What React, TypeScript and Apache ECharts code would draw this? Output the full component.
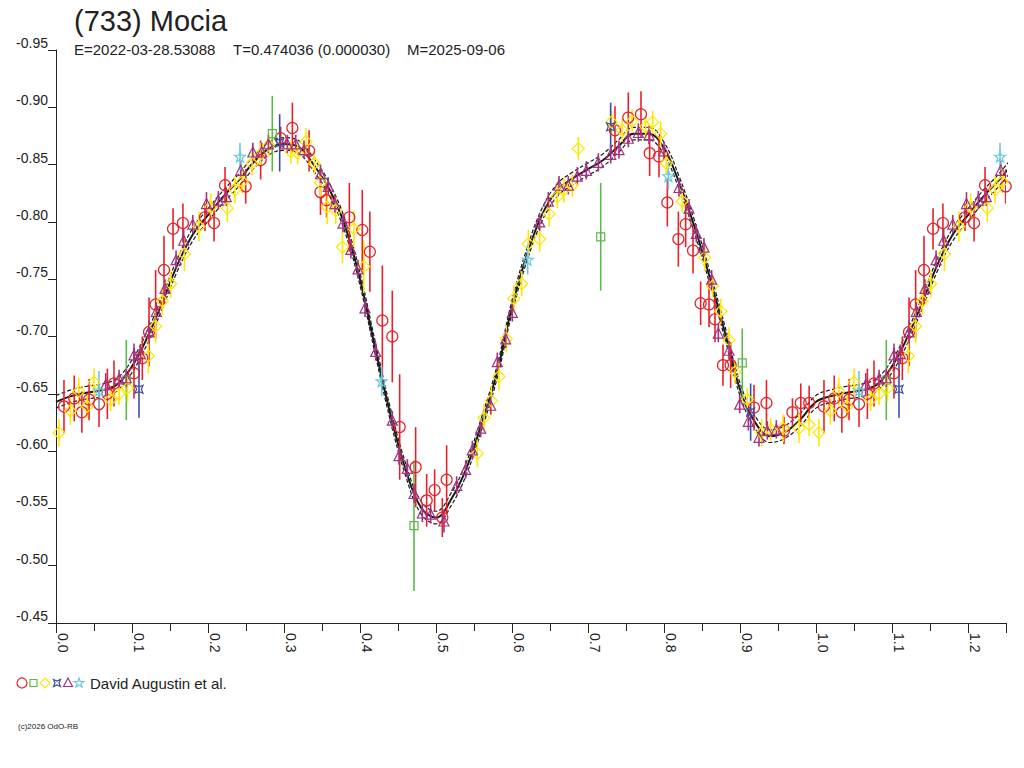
import React, { useEffect, useRef } from 'react';
import * as echarts from 'echarts';

// Fitted lightcurve (phase, reduced magnitude)
const CURVE: number[][] = [
  [0.00, -0.643], [0.02, -0.648], [0.04, -0.651], [0.06, -0.653], [0.08, -0.658],
  [0.10, -0.674], [0.12, -0.699], [0.14, -0.730], [0.16, -0.763], [0.18, -0.789],
  [0.20, -0.806], [0.22, -0.822], [0.24, -0.836], [0.26, -0.852], [0.28, -0.864],
  [0.30, -0.868], [0.32, -0.865], [0.34, -0.849], [0.36, -0.828], [0.38, -0.797],
  [0.40, -0.750], [0.42, -0.690], [0.44, -0.632], [0.46, -0.584], [0.48, -0.551],
  [0.50, -0.542], [0.52, -0.558], [0.54, -0.585], [0.56, -0.624], [0.58, -0.668],
  [0.60, -0.726], [0.62, -0.772], [0.64, -0.807], [0.66, -0.828], [0.68, -0.838],
  [0.70, -0.846], [0.72, -0.854], [0.74, -0.866], [0.76, -0.877], [0.78, -0.877],
  [0.80, -0.864], [0.82, -0.834], [0.84, -0.796], [0.86, -0.752], [0.88, -0.704],
  [0.90, -0.654], [0.92, -0.625], [0.94, -0.613], [0.96, -0.617], [0.98, -0.628],
];
const ENVELOPE = 0.0055;

// Observations: [phase, magnitude, error]
const RED: number[][] = [
  [0.0105, -0.639, 0.023], [0.024, -0.646, 0.020], [0.034, -0.634, 0.018], [0.0435, -0.645, 0.018],
  [0.0566, -0.641, 0.020], [0.0676, -0.650, 0.022], [0.0763, -0.659, 0.020], [0.1026, -0.668, 0.022],
  [0.1136, -0.681, 0.019], [0.1224, -0.704, 0.030], [0.1311, -0.728, 0.030], [0.1421, -0.758, 0.030],
  [0.154, -0.794, 0.018], [0.167, -0.799, 0.017], [0.196, -0.804, 0.012], [0.208, -0.799, 0.016],
  [0.2224, -0.832, 0.016], [0.2496, -0.831, 0.015], [0.2693, -0.854, 0.017], [0.2956, -0.873, 0.010],
  [0.311, -0.882, 0.022], [0.333, -0.862, 0.018], [0.348, -0.826, 0.020], [0.356, -0.819, 0.015],
  [0.386, -0.804, 0.030], [0.403, -0.793, 0.035], [0.413, -0.774, 0.035], [0.4294, -0.714, 0.048],
  [0.4425, -0.700, 0.040], [0.4522, -0.621, 0.046], [0.4732, -0.586, 0.035], [0.4877, -0.557, 0.023],
  [0.4982, -0.566, 0.018], [0.5083, -0.542, 0.017], [0.514, -0.575, 0.030], [0.7355, -0.880, 0.021],
  [0.753, -0.891, 0.022], [0.7697, -0.894, 0.020], [0.7811, -0.860, 0.020], [0.7934, -0.857, 0.018],
  [0.8044, -0.817, 0.021], [0.8189, -0.785, 0.024], [0.8285, -0.798, 0.020], [0.8382, -0.775, 0.020],
  [0.8482, -0.729, 0.019], [0.8592, -0.728, 0.020], [0.8671, -0.715, 0.020], [0.8776, -0.675, 0.018],
  [0.8877, -0.675, 0.020], [0.9184, -0.638, 0.020], [0.9348, -0.642, 0.020], [0.9579, -0.618, 0.012],
  [0.969, -0.634, 0.012], [0.98, -0.642, 0.017], [0.991, -0.642, 0.015],
];
const GREEN: number[][] = [
  [0.0925, -0.662, 0.035], [0.2846, -0.877, 0.033], [0.471, -0.535, 0.057],
  [0.7167, -0.787, 0.047], [0.903, -0.677, 0.030],
];
const YELLOW: number[][] = [
  [0.0039, -0.616, 0.012], [0.019, -0.635, 0.012], [0.030, -0.652, 0.012], [0.041, -0.639, 0.010],
  [0.050, -0.660, 0.012], [0.072, -0.645, 0.010], [0.083, -0.650, 0.010], [0.094, -0.655, 0.012],
  [0.1215, -0.683, 0.015], [0.131, -0.709, 0.015], [0.140, -0.731, 0.012], [0.151, -0.746, 0.012],
  [0.169, -0.772, 0.015], [0.188, -0.796, 0.013], [0.2035, -0.813, 0.012], [0.2254, -0.812, 0.012],
  [0.2355, -0.828, 0.012], [0.245, -0.835, 0.010], [0.258, -0.851, 0.010], [0.269, -0.859, 0.010],
  [0.280, -0.867, 0.010], [0.309, -0.861, 0.010], [0.318, -0.860, 0.010], [0.329, -0.870, 0.012],
  [0.340, -0.851, 0.010], [0.348, -0.834, 0.012], [0.357, -0.813, 0.015], [0.368, -0.810, 0.012],
  [0.377, -0.778, 0.014], [0.392, -0.794, 0.016], [0.405, -0.761, 0.023], [0.5544, -0.598, 0.012],
  [0.5632, -0.629, 0.012], [0.5728, -0.644, 0.013], [0.5829, -0.665, 0.012], [0.5925, -0.698, 0.012],
  [0.6026, -0.733, 0.012], [0.6127, -0.746, 0.011], [0.6215, -0.781, 0.012], [0.6364, -0.785, 0.011],
  [0.6487, -0.807, 0.011], [0.6596, -0.822, 0.010], [0.6684, -0.828, 0.011], [0.6794, -0.832, 0.010],
  [0.6873, -0.864, 0.010], [0.731, -0.887, 0.010], [0.745, -0.880, 0.010], [0.758, -0.888, 0.010],
  [0.776, -0.883, 0.010], [0.785, -0.887, 0.010], [0.7956, -0.877, 0.011], [0.803, -0.851, 0.010],
  [0.824, -0.818, 0.010], [0.8535, -0.769, 0.012], [0.864, -0.744, 0.010], [0.8746, -0.722, 0.011],
  [0.8855, -0.697, 0.011], [0.8934, -0.669, 0.010], [0.9096, -0.645, 0.010], [0.9285, -0.616, 0.012],
  [0.9403, -0.619, 0.010], [0.9566, -0.620, 0.012], [0.9776, -0.620, 0.013], [0.991, -0.623, 0.010],
];
const BLUE: number[][] = [
  [0.1092, -0.654, 0.025], [0.2943, -0.869, 0.025], [0.7298, -0.883, 0.021], [0.914, -0.634, 0.025],
];
const PURPLE: number[][] = [
  [0.0654, -0.658, 0.010], [0.083, -0.663, 0.008], [0.0925, -0.664, 0.008], [0.1026, -0.684, 0.010],
  [0.111, -0.685, 0.008], [0.1224, -0.704, 0.010], [0.132, -0.722, 0.008], [0.1434, -0.742, 0.008],
  [0.158, -0.767, 0.008], [0.168, -0.784, 0.010], [0.180, -0.798, 0.008], [0.198, -0.816, 0.010],
  [0.2136, -0.819, 0.008], [0.224, -0.822, 0.008], [0.243, -0.845, 0.008], [0.259, -0.861, 0.008],
  [0.2706, -0.861, 0.008], [0.2794, -0.868, 0.008], [0.3044, -0.868, 0.008], [0.3154, -0.868, 0.008],
  [0.3263, -0.863, 0.008], [0.348, -0.842, 0.008], [0.3583, -0.831, 0.008], [0.367, -0.816, 0.008],
  [0.3776, -0.799, 0.008], [0.388, -0.776, 0.008], [0.3974, -0.759, 0.008], [0.4066, -0.725, 0.008],
  [0.4206, -0.687, 0.008], [0.4425, -0.627, 0.008], [0.4513, -0.596, 0.008], [0.4623, -0.585, 0.008],
  [0.4711, -0.563, 0.008], [0.4820, -0.546, 0.008], [0.4930, -0.545, 0.008], [0.5105, -0.539, 0.010],
  [0.5272, -0.570, 0.008], [0.5390, -0.584, 0.008], [0.5478, -0.601, 0.008], [0.5588, -0.620, 0.008],
  [0.5719, -0.640, 0.008], [0.5807, -0.678, 0.008], [0.5917, -0.698, 0.008], [0.6004, -0.721, 0.008],
  [0.6364, -0.800, 0.008], [0.6478, -0.818, 0.008], [0.6618, -0.832, 0.008], [0.6741, -0.832, 0.008],
  [0.6860, -0.840, 0.008], [0.6978, -0.845, 0.008], [0.7136, -0.852, 0.008], [0.7299, -0.859, 0.008],
  [0.7408, -0.863, 0.008], [0.7531, -0.873, 0.008], [0.7663, -0.878, 0.008], [0.7803, -0.876, 0.008],
  [0.800, -0.862, 0.008], [0.8197, -0.830, 0.008], [0.8329, -0.812, 0.008], [0.8425, -0.790, 0.008],
  [0.8526, -0.778, 0.008], [0.8627, -0.750, 0.008], [0.8715, -0.703, 0.008], [0.8855, -0.688, 0.008],
  [0.8996, -0.641, 0.008], [0.9110, -0.626, 0.008], [0.9250, -0.612, 0.008], [0.9360, -0.618, 0.008],
  [0.9478, -0.619, 0.008],
];
const CYAN: number[][] = [
  [0.0566, -0.653, 0.017], [0.2421, -0.857, 0.012], [0.4285, -0.661, 0.013],
  [0.6206, -0.767, 0.013], [0.8057, -0.840, 0.012],
];

const TITLE = '(733) Mocia';
const SUB_E = 'E=2022-03-28.53088';
const SUB_T = 'T=0.474036 (0.000030)';
const SUB_M = 'M=2025-09-06';
const LEGEND_TEXT = 'David Augustin et al.';
const COPYRIGHT = '(c)2026 OdO-RB';

const FONT = '"Liberation Sans", Arial, Helvetica, sans-serif';
const C_RED = '#e8202a';
const C_GREEN = '#5cb84a';
const C_YELLOW = '#ffe600';
const C_BLUE = '#3a4ea6';
const C_PURPLE = '#a3327f';
const C_CYAN = '#6cc8dc';

const STAR_PATH = 'path://M5,0 L6.18,3.38 L9.76,3.45 L6.9,5.62 L7.94,9.05 L5,7 L2.06,9.05 L3.1,5.62 L0.24,3.45 L3.82,3.38 Z';
const STAR4_PATH = 'path://M0,0 L5,2 L10,0 L8,5 L10,10 L5,8 L0,10 L2,5 Z';

// phased lightcurve shows phase 0..1.25: observations below 0.25 are repeated one cycle later
function extendPhase(d: number[][]): number[][] {
  return d.concat(d.filter((p) => p[0] <= 0.26).map((p) => [p[0] + 1, ...p.slice(1)]));
}

function errorSeries(data: number[][], color: string) {
  return {
    type: 'custom',
    data,
    encode: { x: 0, y: 1 },
    clip: true,
    silent: true,
    z: 3,
    renderItem: (_params: any, api: any) => {
      const x = api.value(0);
      const y = api.value(1);
      const e = api.value(2);
      const a = api.coord([x, y - e]);
      const b = api.coord([x, y + e]);
      return {
        type: 'line',
        shape: { x1: a[0], y1: a[1], x2: b[0], y2: b[1] },
        style: { stroke: color, lineWidth: 1.6 },
      };
    },
  };
}

function markerSeries(data: number[][], color: string, symbol: string, size: number) {
  return {
    type: 'scatter',
    data,
    symbol,
    symbolSize: size,
    silent: true,
    z: 4,
    itemStyle: { color: 'rgba(0,0,0,0)', borderColor: color, borderWidth: 1.2, opacity: 1 },
  };
}

export default function App() {
  const ref = useRef<HTMLDivElement>(null);

  useEffect(() => {
    document.body.style.margin = '0';
    if (!ref.current) return;
    const chart = echarts.init(ref.current, undefined, { renderer: 'svg' });

    const curve = extendPhase(CURVE);
    const upper = curve.map((p) => [p[0], p[1] - ENVELOPE]);
    const lower = curve.map((p) => [p[0], p[1] + ENVELOPE]);

    const groups: [number[][], string, string, number][] = [
      [RED, C_RED, 'circle', 11],
      [GREEN, C_GREEN, 'rect', 8],
      [YELLOW, C_YELLOW, 'diamond', 12],
      [BLUE, C_BLUE, STAR4_PATH, 8],
      [PURPLE, C_PURPLE, 'triangle', 10],
      [CYAN, C_CYAN, STAR_PATH, 11],
    ];

    const obsSeries: any[] = [];
    groups.forEach(([d, c, s, sz]) => {
      const ext = extendPhase(d);
      obsSeries.push(errorSeries(ext, c));
      obsSeries.push(markerSeries(ext, c, s, sz));
    });

    const axisText = { color: '#222', fontFamily: FONT, fontSize: 14 };
    const axisLine = { show: true, lineStyle: { color: '#222', width: 1 } };

    chart.setOption({
      animation: false,
      backgroundColor: '#ffffff',
      grid: { left: 56, right: 18, top: 50, bottom: 145, containLabel: false },
      xAxis: [
        {
          type: 'value', min: 0, max: 1.25, interval: 0.05, position: 'bottom',
          axisLine, axisTick: { show: true, length: 8, lineStyle: { color: '#222' } },
          axisLabel: { show: false }, splitLine: { show: false },
        },
        {
          type: 'value', min: 0, max: 1.25, interval: 0.1, position: 'bottom',
          axisLine: { show: false },
          axisTick: { show: true, length: 10, lineStyle: { color: '#222' } },
          axisLabel: {
            ...axisText, rotate: -90, margin: 10, verticalAlign: 'bottom',
            formatter: (v: number) => (v > 1.21 ? '' : v.toFixed(1)),
          },
          splitLine: { show: false },
        },
      ],
      yAxis: {
        type: 'value', min: -0.95, max: -0.45, interval: 0.05, inverse: true,
        axisLine, axisTick: { show: true, length: 8, lineStyle: { color: '#222' } },
        axisLabel: { ...axisText, margin: 8, verticalAlign: 'bottom', formatter: (v: number) => v.toFixed(2) },
        splitLine: { show: false },
      },
      series: [
        {
          type: 'line', data: curve, smooth: 0.4, showSymbol: false, silent: true, z: 2,
          lineStyle: { color: '#1a1a1a', width: 2 },
        },
        {
          type: 'line', data: upper, smooth: 0.4, showSymbol: false, silent: true, z: 2,
          lineStyle: { color: '#1a1a1a', width: 1.2, type: [4, 2] },
        },
        {
          type: 'line', data: lower, smooth: 0.4, showSymbol: false, silent: true, z: 2,
          lineStyle: { color: '#1a1a1a', width: 1.2, type: [4, 2] },
        },
        ...obsSeries,
      ],
      graphic: [
        { type: 'text', x: 74, y: 21, style: { text: TITLE, fill: '#222', fontFamily: FONT, fontSize: 29, verticalAlign: 'middle', align: 'left' } },
        { type: 'text', x: 74, y: 49, style: { text: SUB_E, fill: '#222', fontFamily: FONT, fontSize: 15, verticalAlign: 'middle', align: 'left' } },
        { type: 'text', x: 233, y: 49, style: { text: SUB_T, fill: '#222', fontFamily: FONT, fontSize: 15, verticalAlign: 'middle', align: 'left' } },
        { type: 'text', x: 407, y: 49, style: { text: SUB_M, fill: '#222', fontFamily: FONT, fontSize: 15, verticalAlign: 'middle', align: 'left' } },
        // legend symbols
        { type: 'circle', shape: { cx: 22, cy: 683, r: 5 }, style: { fill: 'none', stroke: C_RED, lineWidth: 1.2 } },
        { type: 'rect', shape: { x: 30, y: 679.5, width: 7, height: 7 }, style: { fill: 'none', stroke: C_GREEN, lineWidth: 1.2 } },
        { type: 'polygon', x: 45, y: 683, shape: { points: [[0, -5], [5, 0], [0, 5], [-5, 0]] }, style: { fill: 'none', stroke: C_YELLOW, lineWidth: 1.2 } },
        { type: 'polygon', x: 57, y: 683, shape: { points: [[-3.5, -3.5], [0, -2], [3.5, -3.5], [2, 0], [3.5, 3.5], [0, 2], [-3.5, 3.5], [-2, 0]] }, style: { fill: 'none', stroke: C_BLUE, lineWidth: 1.2 } },
        { type: 'polygon', x: 68, y: 683, shape: { points: [[0, -5], [4.5, 3.5], [-4.5, 3.5]] }, style: { fill: 'none', stroke: C_PURPLE, lineWidth: 1.2 } },
        { type: 'polygon', x: 79, y: 683, shape: { points: [[0, -5], [1.18, -1.62], [4.76, -1.55], [1.9, 0.62], [2.94, 4.05], [0, 2], [-2.94, 4.05], [-1.9, 0.62], [-4.76, -1.55], [-1.18, -1.62]] }, style: { fill: 'none', stroke: C_CYAN, lineWidth: 1.2 } },
        { type: 'text', x: 90, y: 683, style: { text: LEGEND_TEXT, fill: '#222', fontFamily: FONT, fontSize: 15, verticalAlign: 'middle', align: 'left' } },
        { type: 'text', x: 18, y: 726, style: { text: COPYRIGHT, fill: '#222', fontFamily: FONT, fontSize: 8, verticalAlign: 'middle', align: 'left' } },
      ],
    });

    return () => chart.dispose();
  }, []);

  return <div ref={ref} style={{ width: 1024, height: 768 }} />;
}
